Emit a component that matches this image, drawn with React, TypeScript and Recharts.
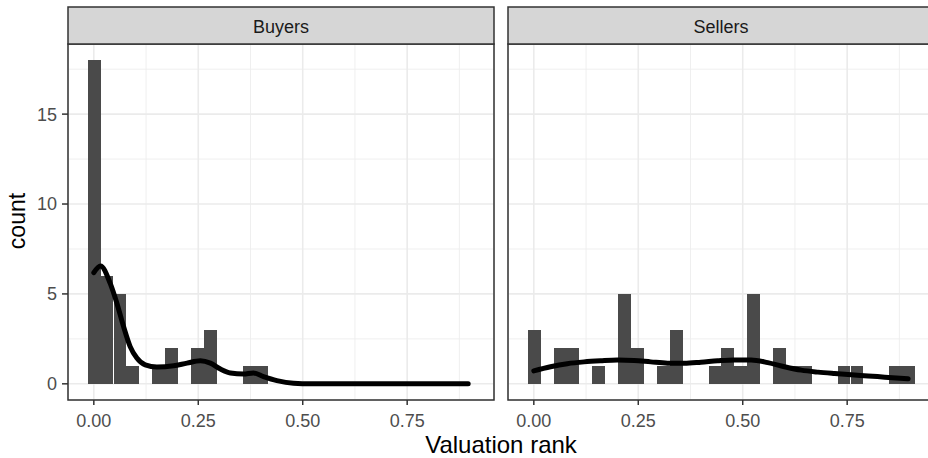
import React from 'react';
import {
  ComposedChart,
  Bar,
  Line,
  XAxis,
  YAxis,
  CartesianGrid,
} from 'recharts';

// Histogram bin width shared by both facets (30 bins over the valuation-rank range)
const BIN_WIDTH = 0.0309;

// Counts per bin, bin i centred at i * BIN_WIDTH
const buyersCounts = [
  18, 6, 5, 1, 0, 1, 2, 0, 2, 3, 0, 0, 1, 1, 0,
  0, 0, 0, 0, 0, 0, 0, 0, 0, 0, 0, 0, 0, 0, 0,
];
const sellersCounts = [
  3, 0, 2, 2, 0, 1, 0, 5, 2, 0, 1, 3, 0, 0, 1,
  2, 1, 5, 0, 2, 1, 1, 0, 0, 1, 1, 0, 0, 1, 1,
];

// Density curves scaled to counts
const buyersDensityX = [
  0, 0.016, 0.039, 0.055, 0.071, 0.087, 0.103, 0.123, 0.151, 0.191, 0.223,
  0.255, 0.279, 0.303, 0.327, 0.358, 0.382, 0.406, 0.438, 0.478, 0.52, 0.6,
  0.7, 0.8, 0.896,
];
const buyersDensityY = [
  6.18, 6.55, 5.6, 4.5, 3.2, 2.07, 1.43, 1.05, 0.93, 1.0, 1.15,
  1.28, 1.15, 0.82, 0.6, 0.54, 0.6, 0.4, 0.18, 0.03, 0, 0,
  0, 0, 0,
];
const sellersDensityX = [
  0, 0.04, 0.08, 0.12, 0.16, 0.2, 0.24, 0.28, 0.32, 0.36, 0.4, 0.44,
  0.48, 0.52, 0.56, 0.6, 0.64, 0.68, 0.72, 0.76, 0.8, 0.84, 0.896,
];
const sellersDensityY = [
  0.72, 0.95, 1.12, 1.22, 1.28, 1.32, 1.3, 1.22, 1.15, 1.14, 1.2, 1.28,
  1.33, 1.33, 1.18, 0.95, 0.76, 0.65, 0.57, 0.5, 0.44, 0.37, 0.28,
];

const facetNames = ['Buyers', 'Sellers'];
const xTicks = [0, 0.25, 0.5, 0.75];
const xMinorTicks = [0.125, 0.375, 0.625, 0.875];
const yTicks = [0, 5, 10, 15];
const yMinorTicks = [2.5, 7.5, 12.5, 17.5];

const X_DOMAIN: [number, number] = [-0.0618, 0.9578];
const Y_DOMAIN: [number, number] = [-0.9, 18.9];

// Layout
const CHART_W = 500;
const CHART_H = 458;
const PLOT_LEFT = 68;
const PLOT_W = 426;
const PLOT_TOP = 44;
const PLOT_BOTTOM = 400;
const STRIP_TOP = 7;
const FONT = '"Liberation Sans", Arial, Helvetica, sans-serif';
const BAR_FILL = '#4A4A4A';

const barSize = (PLOT_W * BIN_WIDTH) / (X_DOMAIN[1] - X_DOMAIN[0]);

// Histogram bar: widened by half a pixel on each side so neighbouring bins join
function HistBar(props: any) {
  const { x, y, width, height } = props;
  if (!height || height <= 0) return null;
  return (
    <rect
      x={x - 0.6}
      y={y}
      width={width + 1.2}
      height={height}
      fill={BAR_FILL}
      shapeRendering="crispEdges"
    />
  );
}

function binRows(counts: number[]) {
  return counts.map((c, i) => ({ x: i * BIN_WIDTH, count: c }));
}
function densityRows(xs: number[], ys: number[]) {
  return xs.map((x, i) => ({ x, y: ys[i] }));
}

function Facet({
  counts,
  dx,
  dy,
  showY,
}: {
  counts: number[];
  dx: number[];
  dy: number[];
  showY: boolean;
}) {
  return (
    <ComposedChart
      width={CHART_W}
      height={CHART_H}
      data={binRows(counts)}
      margin={{
        top: PLOT_TOP,
        right: CHART_W - PLOT_LEFT - PLOT_W,
        bottom: CHART_H - PLOT_BOTTOM - 30,
        left: showY ? 0 : PLOT_LEFT,
      }}
      barCategoryGap={0}
      barGap={0}
    >
      <XAxis
        xAxisId="minor"
        type="number"
        dataKey="x"
        domain={X_DOMAIN}
        ticks={xMinorTicks}
        allowDataOverflow
        hide
      />
      <YAxis
        yAxisId="minor"
        type="number"
        domain={Y_DOMAIN}
        ticks={yMinorTicks}
        allowDataOverflow
        hide
      />
      <CartesianGrid
        xAxisId="minor"
        yAxisId="minor"
        stroke="#EDEDED"
        strokeWidth={0.9}
      />
      <CartesianGrid stroke="#EBEBEB" strokeWidth={1.6} />
      <XAxis
        type="number"
        dataKey="x"
        domain={X_DOMAIN}
        ticks={xTicks}
        allowDataOverflow
        interval={0}
        tickFormatter={(v: number) => v.toFixed(2)}
        tick={{ fill: '#4D4D4D', fontSize: 18, fontFamily: FONT }}
        tickLine={{ stroke: '#333333', strokeWidth: 1.5 }}
        tickSize={5}
        tickMargin={9}
        axisLine={false}
        height={30}
      />
      <XAxis
        xAxisId="dens"
        type="number"
        dataKey="x"
        domain={X_DOMAIN}
        allowDataOverflow
        hide
      />
      <YAxis
        type="number"
        domain={Y_DOMAIN}
        ticks={yTicks}
        allowDataOverflow
        interval={0}
        width={PLOT_LEFT}
        hide={!showY}
        tick={{ fill: '#4D4D4D', fontSize: 18, fontFamily: FONT }}
        tickLine={{ stroke: '#333333', strokeWidth: 1.5 }}
        tickSize={6}
        tickMargin={5}
        axisLine={false}
      />
      <Bar
        dataKey="count"
        fill={BAR_FILL}
        barSize={barSize}
        shape={HistBar}
        isAnimationActive={false}
      />
      <Line
        xAxisId="dens"
        data={densityRows(dx, dy)}
        dataKey="y"
        type="monotone"
        stroke="#000000"
        strokeWidth={5}
        strokeLinecap="round"
        dot={false}
        activeDot={false}
        isAnimationActive={false}
      />
    </ComposedChart>
  );
}

export default function App() {
  const panelLefts = [PLOT_LEFT, PLOT_LEFT + 440];
  return (
    <div
      style={{
        position: 'fixed',
        left: 0,
        top: 0,
        width: 928,
        height: 458,
        overflow: 'hidden',
        background: '#FFFFFF',
        fontFamily: FONT,
      }}
    >
      <div style={{ position: 'absolute', left: 0, top: 0 }}>
        <Facet
          counts={buyersCounts}
          dx={buyersDensityX}
          dy={buyersDensityY}
          showY
        />
      </div>
      <div style={{ position: 'absolute', left: 440, top: 0 }}>
        <Facet
          counts={sellersCounts}
          dx={sellersDensityX}
          dy={sellersDensityY}
          showY={false}
        />
      </div>
      <svg
        width={928}
        height={458}
        style={{ position: 'absolute', left: 0, top: 0, pointerEvents: 'none' }}
      >
        {panelLefts.map((px, i) => (
          <g key={facetNames[i]}>
            <rect
              x={px}
              y={PLOT_TOP}
              width={PLOT_W}
              height={PLOT_BOTTOM - PLOT_TOP}
              fill="none"
              stroke="#333333"
              strokeWidth={1.5}
            />
            <rect
              x={px}
              y={STRIP_TOP}
              width={PLOT_W}
              height={PLOT_TOP - STRIP_TOP}
              fill="#D6D6D6"
              stroke="#333333"
              strokeWidth={1.5}
            />
            <text
              x={px + PLOT_W / 2}
              y={33}
              textAnchor="middle"
              fontSize={18}
              fill="#1A1A1A"
              fontFamily={FONT}
            >
              {facetNames[i]}
            </text>
          </g>
        ))}
        <text
          x={501}
          y={453}
          textAnchor="middle"
          fontSize={24}
          fill="#000000"
          fontFamily={FONT}
        >
          Valuation rank
        </text>
        <text
          x={25}
          y={221}
          textAnchor="middle"
          fontSize={23}
          fill="#000000"
          fontFamily={FONT}
          transform="rotate(-90 25 221)"
        >
          count
        </text>
      </svg>
    </div>
  );
}
